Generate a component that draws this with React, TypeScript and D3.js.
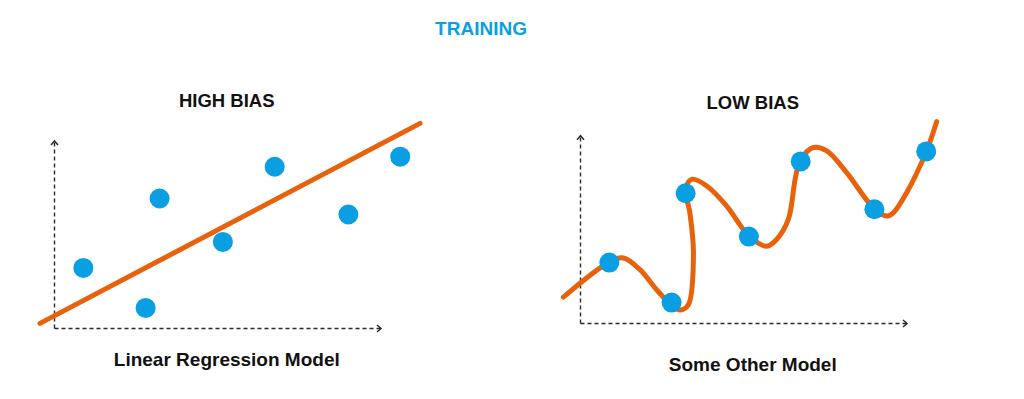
import React from "react";
import * as d3 from "d3";

// shared training points (same in both panels)
const pointX = [0.9, 2.81, 3.24, 5.18, 6.77, 9.03, 10.62];
const pointY = [3.23, 1.08, 6.96, 4.63, 8.67, 6.1, 9.21];

// fitted straight line (high bias)
const lineX = [-0.43, 11.23];
const lineY = [0.25, 11.0];

// wiggly curve knots (low bias)
const curveX = [-0.51, 0.9, 1.33, 1.84, 2.35, 2.81, 3.07, 3.32, 3.48, 3.37, 3.24, 3.43, 3.89, 4.5, 5.19, 5.73, 6.03, 6.39, 6.6, 6.75, 7.16, 7.57, 8.18, 9.02, 9.41, 9.61, 10.02, 10.63, 10.94];
const curveY = [1.37, 3.26, 3.48, 2.85, 1.77, 0.95, 0.68, 0.95, 3.75, 5.91, 7.17, 7.71, 7.35, 6.27, 4.65, 4.11, 4.47, 5.55, 7.71, 8.7, 9.42, 9.24, 8.07, 6.13, 5.73, 5.91, 6.99, 9.24, 10.81];

const mainTitle = "TRAINING";
const panelTitles = ["HIGH BIAS", "LOW BIAS"];
const panelLabels = ["Linear Regression Model", "Some Other Model"];

const BLUE = "#0a9fe3";
const ORANGE = "#e8620c";
const AXIS = "#2a2a2a";
const FONT = "'Liberation Sans', Arial, sans-serif";

type PanelProps = {
  left: number;
  bottom: number;
  title: string;
  label: string;
  titleY: number;
  labelY: number;
  wiggly: boolean;
};

const Panel = ({ left, bottom, title, label, titleY, labelY, wiggly }: PanelProps) => {
  const w = 326;
  const h = 186;
  const x = d3.scaleLinear().domain([0, 10]).range([left, left + w]);
  const y = d3.scaleLinear().domain([0, 10]).range([bottom, bottom - h]);

  let path: string | null;
  if (wiggly) {
    path = d3
      .line<number>()
      .x((d) => x(curveX[d]))
      .y((d) => y(curveY[d]))
      .curve(d3.curveCatmullRom.alpha(0.5))(d3.range(curveX.length));
  } else {
    path = d3
      .line<number>()
      .x((d) => x(lineX[d]))
      .y((d) => y(lineY[d]))(d3.range(lineX.length));
  }

  const x0 = Math.round(x(0)) + 0.5;
  const y0 = Math.round(y(0)) + 0.5;
  const xEnd = x(10) + 1;
  const yTop = y(10) - 1;

  return (
    <g>
      <text x={x(5.3)} y={titleY} textAnchor="middle" fontFamily={FONT} fontWeight="bold" fontSize={18.5} fill="#111">
        {title}
      </text>
      {/* dashed axes */}
      <line x1={x0} y1={y0} x2={x0} y2={yTop} stroke={AXIS} strokeWidth={1.4} strokeDasharray="4,3" />
      <line x1={x0} y1={y0} x2={xEnd} y2={y0} stroke={AXIS} strokeWidth={1.4} strokeDasharray="4,3" />
      <path d={`M${x0 - 3.5},${yTop + 4} L${x0},${yTop} L${x0 + 3.5},${yTop + 4}`} fill="none" stroke={AXIS} strokeWidth={1.5} />
      <path d={`M${xEnd - 4},${y0 - 3.5} L${xEnd},${y0} L${xEnd - 4},${y0 + 3.5}`} fill="none" stroke={AXIS} strokeWidth={1.5} />
      <path d={path ?? ""} fill="none" stroke={ORANGE} strokeWidth={5} strokeLinecap="round" strokeLinejoin="round" />
      {pointX.map((px, i) => (
        <circle key={i} cx={x(px)} cy={y(pointY[i])} r={10} fill={BLUE} />
      ))}
      <text x={x(5.3)} y={labelY} textAnchor="middle" fontFamily={FONT} fontWeight="bold" fontSize={19} fill="#111">
        {label}
      </text>
    </g>
  );
};

const App = () => {
  return (
    <svg width={1024} height={399} style={{ position: "absolute", left: 0, top: 0, background: "#fff" }}>
      <rect width={1024} height={399} fill="#fff" />
      <text x={481} y={35} textAnchor="middle" fontFamily={FONT} fontWeight="bold" fontSize={19} fill={BLUE}>
        {mainTitle}
      </text>
      <Panel left={54} bottom={328} title={panelTitles[0]} label={panelLabels[0]} titleY={107} labelY={366} wiggly={false} />
      <Panel left={580} bottom={322.7} title={panelTitles[1]} label={panelLabels[1]} titleY={109} labelY={370.5} wiggly={true} />
    </svg>
  );
};

export default App;
